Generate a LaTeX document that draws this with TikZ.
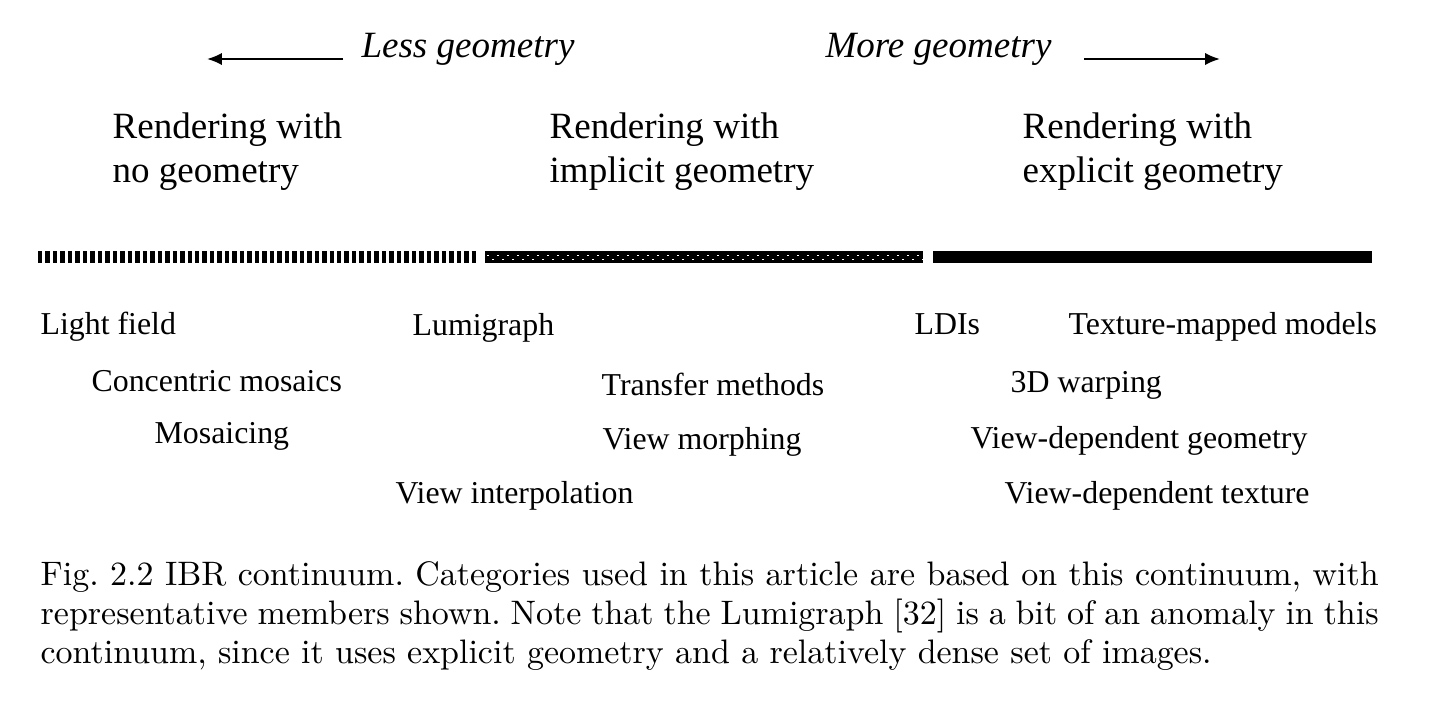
\documentclass[tikz,border=0pt]{standalone}
\usepackage{fontspec}
\newfontfamily\figfont{Liberation Serif}
\usetikzlibrary{arrows.meta}

\begin{document}
\begin{tikzpicture}
[x=0.3077pt, y=-0.3077pt,
headnode/.style={anchor=base west, inner sep=0pt, align=left, font=\figfont\fontsize{11.4}{13.5}\selectfont},
itemnode/.style={anchor=base west, inner sep=0pt, font=\figfont\fontsize{9.8}{12}\selectfont},
trendnode/.style={anchor=base west, inner ysep=0pt, font=\figfont\itshape\fontsize{11.4}{13.5}\selectfont},
trendarrow/.style={line width=0.62pt, -{Latex[length=4.6pt,width=3.8pt]}},
capnode/.style={anchor=base west, inner sep=0pt, text width=411.7pt, align=justify, font=\fontsize{10.45}{12}\selectfont\frenchspacing},
]
\useasboundingbox (0,0) rectangle (1441,712);

% trend labels
\node[trendnode, inner xsep=5.5pt] (less) at (343,57) {Less geometry};
\node[trendnode, inner xsep=9.8pt] (more) at (793,57) {More geometry};
\coordinate (lesstip) at (207,59);
\coordinate (moretip) at (1220,59);
\draw[trendarrow] (less.west |- lesstip) -- (lesstip);
\draw[trendarrow] (more.east |- moretip) -- (moretip);

% categories (base = last line)
\node[headnode] (nogeo) at (112,182) {Rendering with\\no geometry};
\node[headnode] (implgeo) at (549,182) {Rendering with\\implicit geometry};
\node[headnode] (explgeo) at (1022,182) {Rendering with\\explicit geometry};

% continuum bar
\draw[line width=3.69pt, dash pattern=on 1.38pt off 0.92pt] (38,257) -- (477,257);
\fill (485,251) rectangle (923,263);
\foreach \i in {0,...,43}
{
\fill[white] (487+10*\i,254.7) rectangle +(1.5,1.5);
\fill[white] (492+10*\i,258.7) rectangle +(1.5,1.5);
}
\fill (933,251) rectangle (1372,263);

% members
\node[itemnode] (lightfield) at (40,334) {Light field};
\node[itemnode] (concentric) at (91,391) {Concentric mosaics};
\node[itemnode] (mosaicing) at (154,443) {Mosaicing};
\node[itemnode] (lumigraph) at (412,335) {Lumigraph};
\node[itemnode] (transfer) at (601,395) {Transfer methods};
\node[itemnode] (morphing) at (602,449) {View morphing};
\node[itemnode] (interp) at (395,503) {View interpolation};
\node[itemnode] (ldis) at (914,334) {LDIs};
\node[itemnode] (texmapped) at (1068,334) {Texture-mapped models};
\node[itemnode] (warping) at (1010,392) {3D warping};
\node[itemnode] (vdgeo) at (970,448) {View-dependent geometry};
\node[itemnode] (vdtex) at (1004,503) {View-dependent texture};

% caption
\node[capnode] (caption) at (40,585) {Fig.~2.2 IBR continuum. Categories used in this article are based on this continuum, with representative members shown. Note that the Lumigraph [32] is a bit of an anomaly in this continuum, since it uses explicit geometry and a relatively dense set of images.};
\end{tikzpicture}
\end{document}
